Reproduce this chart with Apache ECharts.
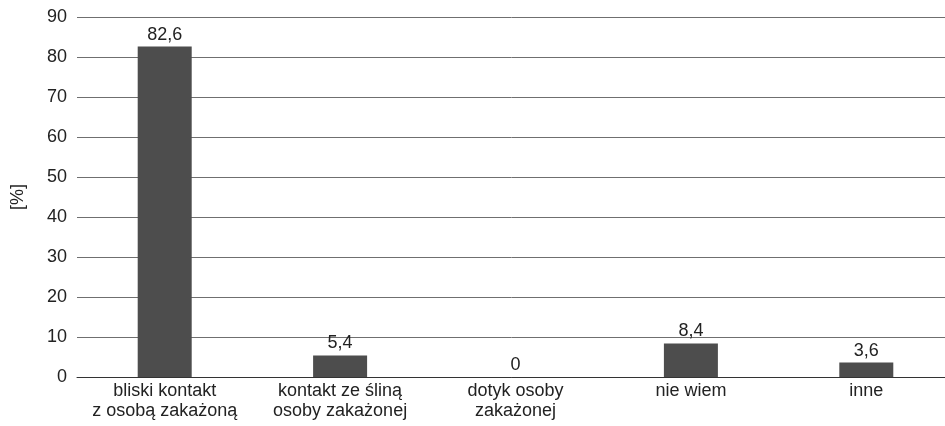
<!DOCTYPE html>
<html>
<head>
<meta charset="utf-8">
<script src="https://cdn.jsdelivr.net/npm/echarts@6/dist/echarts.min.js"></script>
<style>
  html, body { margin: 0; padding: 0; background: #fff; }
  #chart { width: 945px; height: 426px; }
</style>
</head>
<body>
<div id="chart"></div>
<script>
  var categories = ['bliski kontakt\nz osobą zakażoną', 'kontakt ze śliną\nosoby zakażonej', 'dotyk osoby\nzakażonej', 'nie wiem', 'inne'];
  var values = [82.6, 5.4, 0, 8.4, 3.6];
  var yTicks = { min: 0, max: 90, interval: 10 };

  var font = "'Liberation Sans Narrow', 'Arial Narrow', 'Liberation Sans', sans-serif";
  var myChart = echarts.init(document.getElementById('chart'));
  myChart.setOption({
    backgroundColor: '#fff',
    animation: false,
    grid: { left: 77, right: -9, top: 17, bottom: 49, outerBoundsMode: 'none' },
    xAxis: {
      type: 'category',
      data: categories,
      axisLine: { show: true, lineStyle: { color: '#333', width: 1 } },
      axisTick: { show: false },
      axisLabel: {
        color: '#222',
        fontFamily: font,
        fontSize: 18,
        lineHeight: 20,
        margin: 4,
        interval: 0
      }
    },
    yAxis: {
      type: 'value',
      min: yTicks.min,
      max: yTicks.max,
      interval: yTicks.interval,
      name: '[%]',
      nameLocation: 'middle',
      nameRotate: 90,
      nameGap: 50,
      nameTextStyle: { color: '#222', fontFamily: font, fontSize: 18 },
      axisLine: { show: false },
      axisTick: { show: false },
      splitLine: { lineStyle: { color: '#6f6f6f', width: 1 } },
      axisLabel: { color: '#222', fontFamily: font, fontSize: 18, margin: 10 }
    },
    series: [{
      type: 'bar',
      data: values,
      barWidth: 54,
      itemStyle: { color: '#4d4d4d' },
      label: {
        show: true,
        position: 'top',
        distance: 3,
        color: '#222',
        fontFamily: font,
        fontSize: 18,
        formatter: function (p) { return String(p.value).replace('.', ','); }
      }
    }]
  });
</script>
</body>
</html>
